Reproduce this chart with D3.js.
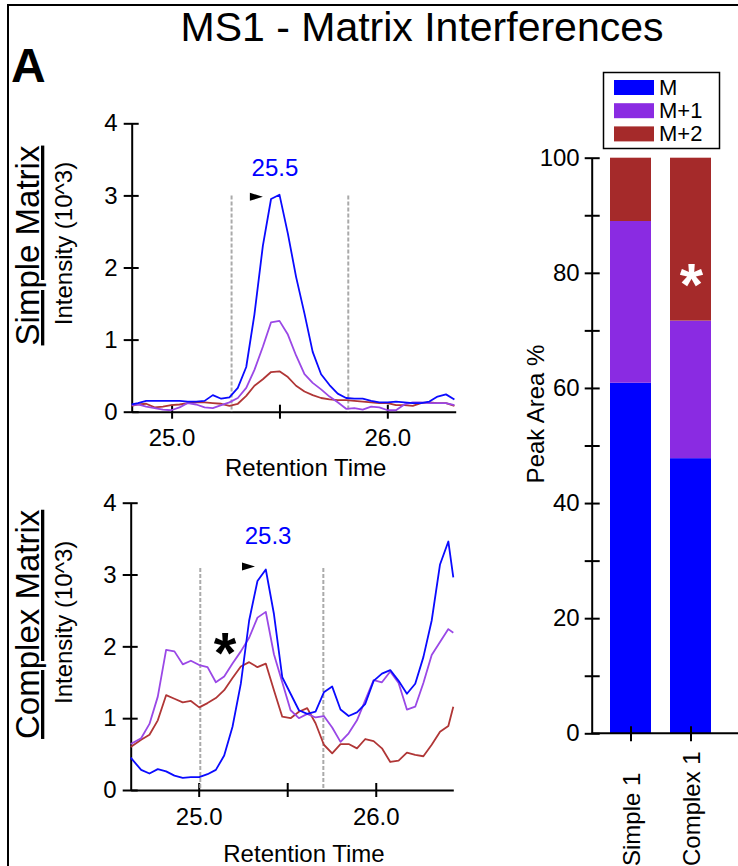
<!DOCTYPE html>
<html>
<head>
<meta charset="utf-8">
<script src="https://cdn.jsdelivr.net/npm/d3@7"></script>
<style>
    body { margin: 0; background: #fff; }
    svg text { font-family: "Liberation Sans", Arial, sans-serif; }
</style>
</head>
<body>
<div id="chart"></div>
<script>
// Chromatogram data, intensity in 10^3
const simpleTime = [24.815, 24.844, 24.882, 24.921, 24.960, 24.998, 25.037, 25.075, 25.114, 25.153,
    25.191, 25.230, 25.268, 25.307, 25.346, 25.384, 25.423, 25.461, 25.500, 25.539,
    25.577, 25.616, 25.654, 25.693, 25.732, 25.770, 25.809, 25.847, 25.886, 25.925,
    25.963, 26.002, 26.040, 26.079, 26.118, 26.156, 26.195, 26.233, 26.272, 26.311];
const simpleM = [0.10, 0.12, 0.15, 0.15, 0.15, 0.15, 0.15, 0.14, 0.14, 0.15,
    0.23, 0.18, 0.20, 0.33, 0.62, 1.35, 2.30, 2.95, 3.01, 2.47,
    1.87, 1.36, 0.83, 0.52, 0.37, 0.25, 0.19, 0.18, 0.18, 0.15,
    0.13, 0.13, 0.14, 0.13, 0.12, 0.12, 0.14, 0.21, 0.24, 0.17];
const simpleM1 = [0.09, 0.10, 0.07, 0.05, 0.03, 0.02, 0.06, 0.12, 0.10, 0.06,
    0.05, 0.09, 0.13, 0.19, 0.33, 0.58, 0.90, 1.24, 1.26, 1.07,
    0.78, 0.52, 0.40, 0.31, 0.21, 0.13, 0.04, 0.05, 0.03, 0.07,
    0.06, 0.02, 0.02, 0.10, 0.13, 0.13, 0.12, 0.12, 0.12, 0.09];
const simpleM2 = [0.08, 0.10, 0.11, 0.06, 0.07, 0.09, 0.10, 0.12, 0.13, 0.13,
    0.12, 0.11, 0.08, 0.11, 0.22, 0.36, 0.45, 0.55, 0.56, 0.48,
    0.36, 0.28, 0.23, 0.19, 0.17, 0.16, 0.16, 0.15, 0.14, 0.13,
    0.12, 0.12, 0.09, 0.09, 0.08, 0.12, 0.13, 0.12, 0.12, 0.08];

const complexTime = [24.616, 24.675, 24.722, 24.769, 24.816, 24.863, 24.910, 24.956, 25.003, 25.050,
    25.097, 25.144, 25.191, 25.238, 25.285, 25.332, 25.379, 25.425, 25.472, 25.519,
    25.566, 25.613, 25.660, 25.707, 25.754, 25.801, 25.847, 25.894, 25.941, 25.988,
    26.035, 26.082, 26.129, 26.176, 26.223, 26.269, 26.316, 26.363, 26.410, 26.438];
const complexM = [0.45, 0.28, 0.23, 0.29, 0.26, 0.20, 0.17, 0.18, 0.18, 0.22,
    0.28, 0.48, 0.88, 1.48, 2.36, 2.91, 3.07, 2.45, 1.57, 1.34,
    1.11, 1.06, 1.09, 1.36, 1.44, 1.12, 1.03, 1.08, 1.20, 1.52,
    1.62, 1.67, 1.52, 1.34, 1.48, 1.85, 2.36, 3.14, 3.46, 2.96];
const complexM1 = [0.64, 0.72, 0.92, 1.30, 1.95, 1.93, 1.75, 1.80, 1.74, 1.71,
    1.50, 1.58, 1.76, 1.93, 2.12, 2.40, 2.48, 1.89, 1.50, 1.11,
    1.00, 1.06, 1.01, 1.03, 0.87, 0.67, 0.79, 0.97, 1.25, 1.53,
    1.50, 1.65, 1.49, 1.12, 1.16, 1.49, 1.88, 2.06, 2.24, 2.19];
const complexM2 = [0.60, 0.70, 0.77, 0.97, 1.32, 1.27, 1.22, 1.24, 1.15, 1.21,
    1.28, 1.39, 1.56, 1.72, 1.78, 1.71, 1.76, 1.39, 1.02, 1.00,
    1.09, 1.14, 0.93, 0.63, 0.51, 0.64, 0.64, 0.58, 0.71, 0.68,
    0.58, 0.39, 0.41, 0.52, 0.49, 0.47, 0.63, 0.81, 0.89, 1.16];

// integration windows and apex labels
const simpleWindow = [25.278, 25.819];
const complexWindow = [25.009, 25.704];
const simpleApex = '25.5';
const complexApex = '25.3';

// Peak area percentages (stacked)
const categories = ['Simple 1', 'Complex 1'];
const areaM = [60.9, 47.8];
const areaM1 = [28.1, 23.9];
const areaM2 = [11.0, 28.3];
const seriesNames = ['M', 'M+1', 'M+2'];

const intensityTicks = [0, 1, 2, 3, 4];
const timeTicks = [25.0, 25.5, 26.0];
const areaTicks = [0, 10, 20, 30, 40, 50, 60, 70, 80, 90, 100];

const barColors = ['#0000ff', '#8a2be2', '#a52a2a'];
const lineColors = ['#0a0aff', '#9a48e6', '#b03636'];

const svg = d3.select('#chart')
    .append('svg')
    .attr('width', 738)
    .attr('height', 866);

svg.append('rect').attr('width', 738).attr('height', 866).attr('fill', '#fff');

// panel frame (top + left edges)
svg.append('path')
    .attr('d', 'M8,866V5H738')
    .attr('fill', 'none')
    .attr('stroke', '#000')
    .attr('stroke-width', 2);

svg.append('text')
    .attr('x', 11).attr('y', 82)
    .attr('font-size', 48).attr('font-weight', 'bold')
    .text('A');

svg.append('text')
    .attr('x', 422).attr('y', 41)
    .attr('text-anchor', 'middle')
    .attr('font-size', 41)
    .text('MS1 - Matrix Interferences');

function styleAxis(g) {
    g.attr('font-family', null).attr('font-size', 24);
    g.selectAll('path, line').attr('stroke', '#000').attr('stroke-width', 2);
    g.selectAll('text').attr('fill', '#000');
}

function createChromatogram(cfg) {
    const x = d3.scaleLinear().domain(cfg.xDomain).range(cfg.xRange);
    const y = d3.scaleLinear().domain([0, 4]).range(cfg.yRange);
    const g = svg.append('g');

    // y axis, ticks crossing the line
    const yAxis = g.append('g')
        .attr('transform', `translate(${cfg.xRange[0]},0)`)
        .call(d3.axisLeft(y).tickValues(intensityTicks).tickSize(8).tickSizeOuter(0).tickPadding(6)
            .tickFormat(d3.format('d')));
    yAxis.selectAll('.tick line').attr('x1', 7);
    styleAxis(yAxis);

    const xAxis = g.append('g')
        .attr('transform', `translate(0,${cfg.yRange[0]})`)
        .call(d3.axisBottom(x).tickValues(timeTicks).tickSize(7).tickSizeOuter(0).tickPadding(6)
            .tickFormat(d => d === 25.5 ? '' : d3.format('.1f')(d)));
    xAxis.selectAll('.tick line').attr('y1', -7);
    xAxis.selectAll('.tick text').attr('dy', '0.9em');
    styleAxis(xAxis);

    // integration window
    g.selectAll('.window')
        .data(cfg.window)
        .enter()
        .append('line')
        .attr('x1', d => x(d)).attr('x2', d => x(d))
        .attr('y1', y(cfg.windowTop)).attr('y2', y(0))
        .attr('stroke', '#aaa')
        .attr('stroke-width', 2)
        .attr('stroke-dasharray', '4,2');

    const line = d3.line()
        .x(d => x(d[0]))
        .y(d => y(d[1]));

    // draw M+2 first so M sits on top
    [2, 1, 0].forEach(i => {
        const pts = cfg.time.map((t, k) => [t, cfg.series[i][k]]);
        g.append('path')
            .datum(pts)
            .attr('fill', 'none')
            .attr('stroke', lineColors[i])
            .attr('stroke-width', 1.8)
            .attr('stroke-linejoin', 'round')
            .attr('d', line);
    });

    // apex marker and label
    const ax = x(cfg.arrow[0]), ay = y(cfg.arrow[1]);
    g.append('path')
        .attr('d', `M${ax},${ay}L${ax - 13},${ay - 4}L${ax - 13},${ay + 4}Z`)
        .attr('fill', '#000');
    g.append('text')
        .attr('x', x(cfg.label[0])).attr('y', y(cfg.label[1]))
        .attr('text-anchor', 'middle')
        .attr('font-size', 24)
        .attr('fill', '#0000ff')
        .text(cfg.apex);

    if (cfg.star) {
        g.append('text')
            .attr('x', x(cfg.star[0])).attr('y', y(cfg.star[1]) + 30)
            .attr('text-anchor', 'middle')
            .attr('font-size', 58).attr('font-weight', 'bold')
            .text('*');
    }

    const midX = (cfg.xRange[0] + cfg.xRange[1]) / 2 + 12;
    g.append('text')
        .attr('x', midX).attr('y', cfg.titleY)
        .attr('text-anchor', 'middle')
        .attr('font-size', 24)
        .text('Retention Time');

    const midY = (cfg.yRange[0] + cfg.yRange[1]) / 2;
    g.append('text')
        .attr('transform', `translate(39,${midY - 22}) rotate(-90)`)
        .attr('text-anchor', 'middle')
        .attr('font-size', 33)
        .style('text-decoration', 'underline')
        .text(cfg.name);
    g.append('text')
        .attr('transform', `translate(72,${midY - 24}) rotate(-90)`)
        .attr('text-anchor', 'middle')
        .attr('font-size', 24)
        .text('Intensity (10^3)');
}

createChromatogram({
    name: 'Simple Matrix',
    time: simpleTime,
    series: [simpleM, simpleM1, simpleM2],
    xDomain: [24.815, 26.317],
    xRange: [131.7, 455.7],
    yRange: [411.7, 123.3],
    window: simpleWindow,
    windowTop: 3.0,
    arrow: [25.423, 2.98],
    label: [25.479, 3.27],
    apex: simpleApex,
    titleY: 476
});

createChromatogram({
    name: 'Complex Matrix',
    time: complexTime,
    series: [complexM, complexM1, complexM2],
    xDomain: [24.616, 26.438],
    xRange: [130.7, 453.3],
    yRange: [790, 502.7],
    window: complexWindow,
    windowTop: 3.09,
    arrow: [25.318, 3.11],
    label: [25.392, 3.42],
    apex: complexApex,
    star: [25.149, 2.05],
    titleY: 862
});

// Peak area stacked bars
function createAreaChart() {
    const x = d3.scalePoint().domain(categories).range([630.5, 690.5]);
    const y = d3.scaleLinear().domain([0, 100]).range([733.3, 157.7]);
    const axisX = 591.7;
    const barW = 41;

    const rows = categories.map((c, i) => ({cat: c, M: areaM[i], 'M+1': areaM1[i], 'M+2': areaM2[i]}));
    const stack = d3.stack().keys(seriesNames)(rows);

    const g = svg.append('g');
    stack.forEach((layer, li) => {
        g.selectAll(null)
            .data(layer)
            .enter()
            .append('rect')
            .attr('x', d => x(d.data.cat) - barW / 2)
            .attr('y', d => y(d[1]))
            .attr('width', barW)
            .attr('height', d => y(d[0]) - y(d[1]))
            .attr('fill', barColors[li]);
    });

    g.append('text')
        .attr('x', x('Complex 1') + 1).attr('y', y(79.0) + 26)
        .attr('text-anchor', 'middle')
        .attr('font-size', 60).attr('font-weight', 'bold')
        .attr('fill', '#fff')
        .text('*');

    const yAxis = g.append('g')
        .attr('transform', `translate(${axisX},0)`)
        .call(d3.axisLeft(y).tickValues(areaTicks).tickSize(7).tickSizeOuter(0).tickPadding(5)
            .tickFormat(d => d % 20 === 0 ? d : ''));
    yAxis.selectAll('.tick line').attr('x1', 8);
    styleAxis(yAxis);

    const xAxis = g.append('g')
        .attr('transform', `translate(0,${y(0)})`)
        .call(d3.axisBottom(x).tickSize(8).tickSizeOuter(0).tickFormat(''));
    xAxis.select('.domain').remove();
    xAxis.selectAll('.tick line').attr('y1', -7);
    styleAxis(xAxis);
    g.append('line')
        .attr('x1', axisX).attr('x2', 738)
        .attr('y1', y(0)).attr('y2', y(0))
        .attr('stroke', '#000').attr('stroke-width', 2);

    g.selectAll('.cat')
        .data(categories)
        .enter()
        .append('text')
        .attr('transform', d => `translate(${x(d) + 9},866) rotate(-90)`)
        .attr('font-size', 24)
        .text(d => d);

    g.append('text')
        .attr('transform', `translate(544,414) rotate(-90)`)
        .attr('text-anchor', 'middle')
        .attr('font-size', 24)
        .text('Peak Area %');

    // legend
    const legend = g.append('g');
    legend.append('rect')
        .attr('x', 603.5).attr('y', 72.5)
        .attr('width', 116).attr('height', 76)
        .attr('fill', '#fff').attr('stroke', '#000').attr('stroke-width', 1.5);
    seriesNames.forEach((s, i) => {
        legend.append('rect')
            .attr('x', 614).attr('y', 80 + i * 23.2)
            .attr('width', 40).attr('height', 15)
            .attr('fill', barColors[i]);
        legend.append('text')
            .attr('x', 659).attr('y', 95 + i * 23)
            .attr('font-size', 22)
            .text(s);
    });
}

createAreaChart();
</script>
</body>
</html>
